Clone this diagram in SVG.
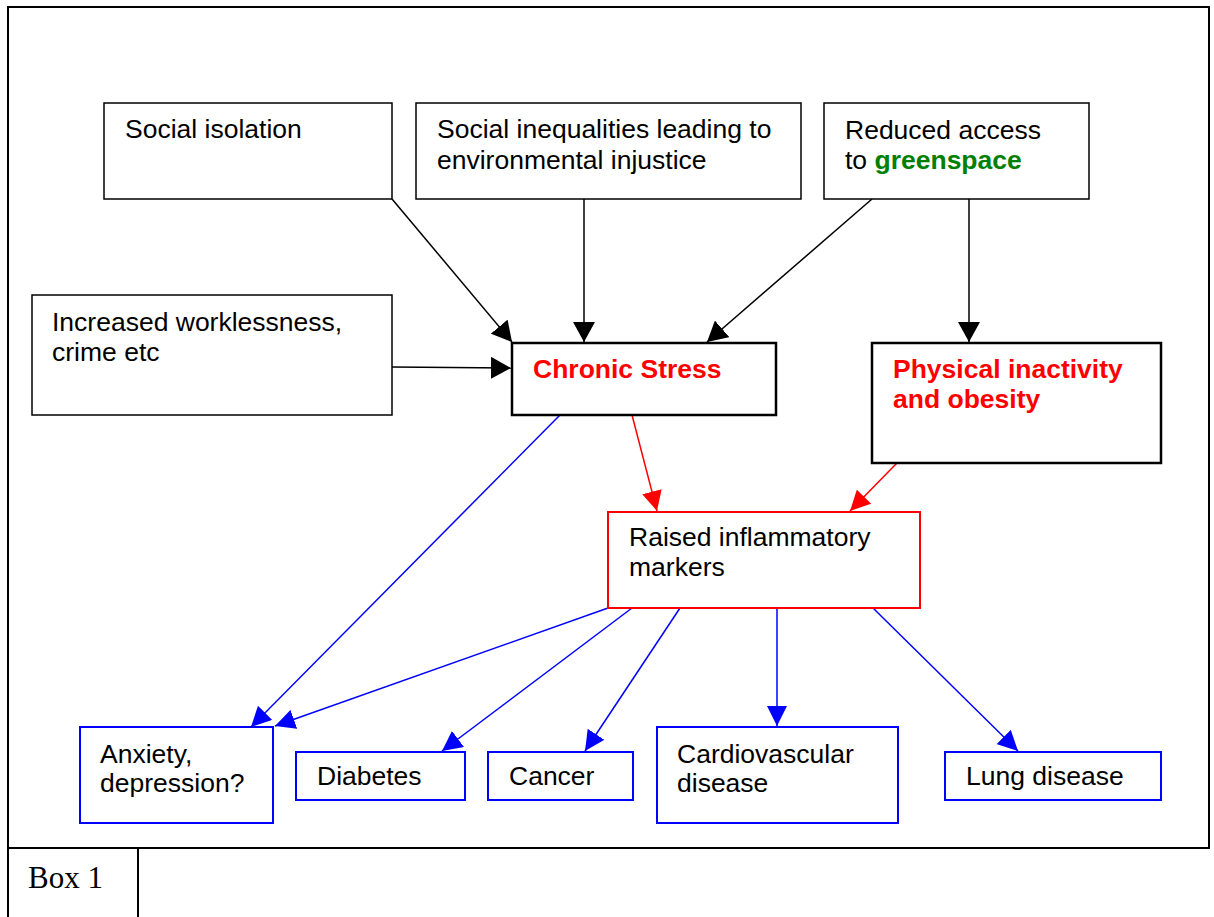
<svg xmlns="http://www.w3.org/2000/svg" width="1214" height="917" viewBox="0 0 1214 917">
<style>
.t{font-family:"Liberation Sans",Arial,sans-serif;font-size:26.5px;fill:#000}
.b{font-weight:bold;fill:#ff0000}
.g{font-weight:bold;fill:#008000}
.bx{fill:#fff;stroke:#000;stroke-width:1.5}
.bxk{fill:#fff;stroke:#000;stroke-width:2.5}
.bxr{fill:#fff;stroke:#ff0000;stroke-width:2}
.bxb{fill:#fff;stroke:#0000ff;stroke-width:2}
.ck{stroke:#000;stroke-width:1.5;fill:none;marker-end:url(#ak)}
.cr{stroke:#ff0000;stroke-width:1.5;fill:none;marker-end:url(#ar)}
.cb{stroke:#0000ff;stroke-width:1.5;fill:none;marker-end:url(#ab)}
</style>
<defs>
<marker id="ak" markerUnits="userSpaceOnUse" markerWidth="20" markerHeight="22" refX="20" refY="11" orient="auto"><path d="M0,0 L20,11 L0,22 z" fill="#000"/></marker>
<marker id="ar" markerUnits="userSpaceOnUse" markerWidth="20" markerHeight="20" refX="20" refY="10" orient="auto"><path d="M0,0 L20,10 L0,20 z" fill="#ff0000"/></marker>
<marker id="ab" markerUnits="userSpaceOnUse" markerWidth="20" markerHeight="20" refX="20" refY="10" orient="auto"><path d="M0,0 L20,10 L0,20 z" fill="#0000ff"/></marker>
</defs>
<rect width="1214" height="917" fill="#fff"/>
<g id="frame" stroke="#000" stroke-width="2" fill="none">
<rect x="8" y="7" width="1201" height="841"/>
<line x1="8" y1="848" x2="8" y2="917"/>
<line x1="138" y1="848" x2="138" y2="917"/>
</g>
<text x="28" y="888" style="font-family:'Liberation Serif','Times New Roman',serif;font-size:31px">Box 1</text>

<g id="connectors">
<line class="ck" x1="392" y1="199" x2="512" y2="342"/>
<line class="ck" x1="584" y1="199" x2="584" y2="342"/>
<line class="ck" x1="872" y1="199" x2="707" y2="342"/>
<line class="ck" x1="969" y1="199" x2="969" y2="342"/>
<line class="ck" x1="392" y1="367" x2="511" y2="368"/>
<line class="cr" x1="632" y1="415" x2="657" y2="511"/>
<line class="cr" x1="897" y1="463" x2="850" y2="511"/>
<line class="cb" x1="560" y1="415" x2="251" y2="727"/>
<line class="cb" x1="608" y1="608" x2="275" y2="726"/>
<line class="cb" x1="632" y1="608" x2="442" y2="751"/>
<line class="cb" x1="680" y1="608" x2="585" y2="751"/>
<line class="cb" x1="777" y1="608" x2="777" y2="726"/>
<line class="cb" x1="873" y1="608" x2="1018" y2="751"/>
</g>

<g id="social-isolation"><rect class="bx" x="104" y="103" width="288" height="96"/><text class="t" x="125" y="138">Social isolation</text></g>
<g id="social-inequalities"><rect class="bx" x="416" y="103" width="385" height="96"/><text class="t" x="437" y="138">Social inequalities leading to</text><text class="t" x="437" y="169">environmental injustice</text></g>
<g id="greenspace"><rect class="bx" x="824" y="103" width="265" height="96"/><text class="t" x="845" y="139">Reduced access</text><text class="t" x="845" y="169">to <tspan class="g">greenspace</tspan></text></g>
<g id="worklessness"><rect class="bx" x="32" y="295" width="360" height="120"/><text class="t" x="52" y="331">Increased worklessness,</text><text class="t" x="52" y="361">crime etc</text></g>
<g id="chronic-stress"><rect class="bxk" x="512" y="343" width="264" height="72"/><text class="t b" x="533" y="378">Chronic Stress</text></g>
<g id="physical-inactivity"><rect class="bxk" x="872" y="343" width="289" height="120"/><text class="t b" x="893" y="378">Physical inactivity</text><text class="t b" x="893" y="408">and obesity</text></g>
<g id="inflammatory"><rect class="bxr" x="608" y="512" width="312" height="96"/><text class="t" x="629" y="546">Raised inflammatory</text><text class="t" x="629" y="576">markers</text></g>
<g id="anxiety"><rect class="bxb" x="80" y="727" width="193" height="96"/><text class="t" x="100" y="763">Anxiety,</text><text class="t" x="100" y="792">depression?</text></g>
<g id="diabetes"><rect class="bxb" x="296" y="752" width="169" height="48"/><text class="t" x="317" y="785">Diabetes</text></g>
<g id="cancer"><rect class="bxb" x="488" y="752" width="145" height="48"/><text class="t" x="509" y="785">Cancer</text></g>
<g id="cardiovascular"><rect class="bxb" x="657" y="727" width="241" height="96"/><text class="t" x="677" y="763">Cardiovascular</text><text class="t" x="677" y="792">disease</text></g>
<g id="lung"><rect class="bxb" x="945" y="752" width="216" height="48"/><text class="t" x="966" y="785">Lung disease</text></g>
</svg>
